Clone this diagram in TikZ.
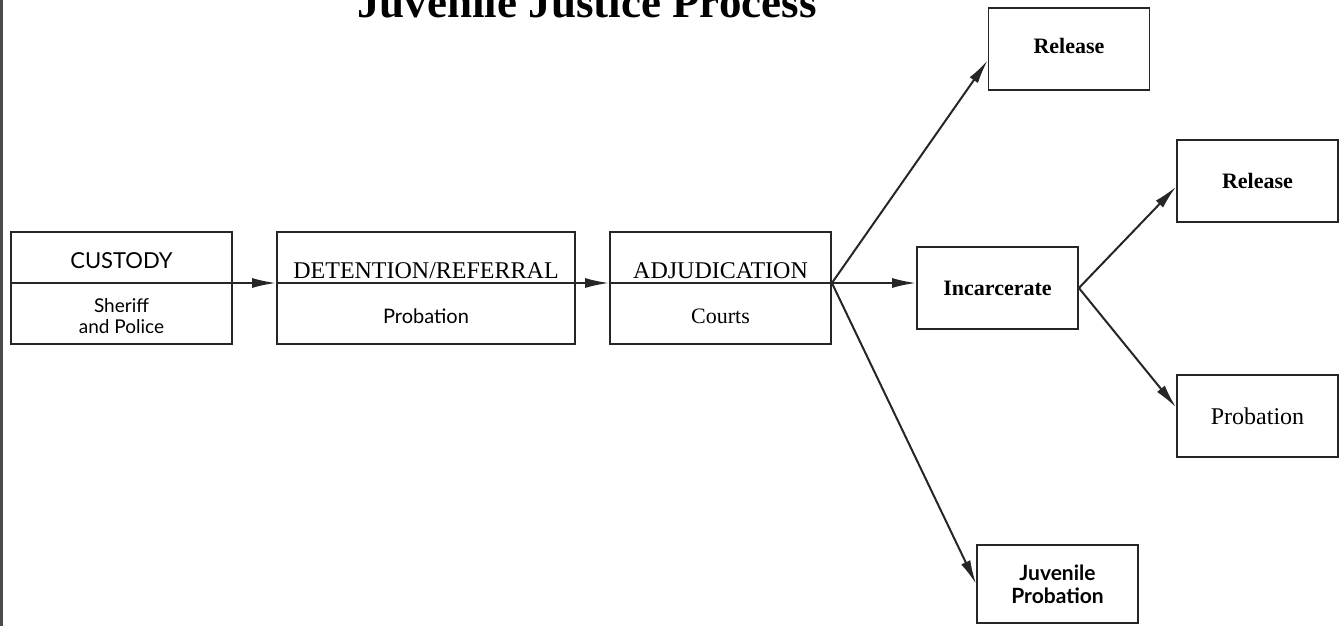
\documentclass[tikz,border=0pt]{standalone}
\usepackage{fontspec}
\setmainfont{Liberation Serif}
\newfontfamily\labelsans{Lato}
\usetikzlibrary{positioning, arrows.meta}
\tikzset{
  stagebox/.style ={draw=black!85, line width=0.9pt,
                    minimum width=110.5pt, minimum height=56pt, inner sep=0pt},
  outcome/.style  ={draw=black!85, line width=0.9pt, align=center,
                    minimum width=80.5pt, minimum height=41pt, inner sep=2pt,
                    font=\bfseries\fontsize{11}{13}\selectfont},
  headtxt/.style  ={anchor=base, inner sep=0pt,
                    font=\fontsize{12}{14}\selectfont},
  subtxt/.style   ={align=center, inner sep=0pt,
                    font=\labelsans\fontsize{10}{10.5}\selectfont},
  flow/.style     ={-{Latex[length=12pt, width=5pt]}, line width=1pt, draw=black!85},
}

\begin{document}
\begin{tikzpicture}[x=0.5pt, y=-0.5pt]
  \useasboundingbox (0,0) rectangle (1342,626);
  \clip (0,0) rectangle (1342,626);

  % title, cut off by the top edge
  \node[anchor=base, inner sep=0pt, font=\bfseries\fontsize{22.5}{26}\selectfont]
    (title) at (587,18) {Juvenile Justice Process};

  % left edge of the page
  \draw[black!70, line width=1.2pt] (1.5,0) -- (1.5,626);

  % ---------------- main stages ----------------
  \node[stagebox] (custody) at (121.5,288) {};
  \node[stagebox, minimum width=149pt, right=21.6pt of custody] (detention) {};
  \node[stagebox, right=16.6pt of detention] (adjud) {};
  \node[outcome, right=42.1pt of adjud] (incarc) {Incarcerate};

  \coordinate (axis)    at (0,283);
  \coordinate (capbase) at (0,268);
  \coordinate (headbase) at (0,278);
  \coordinate (lowrow)  at (0,316);

  \node[headtxt, font=\labelsans\fontsize{11}{13}\selectfont]
    (custodyhd) at (custody.center |- capbase) {CUSTODY};
  \node[subtxt, font=\labelsans\fontsize{9.5}{10.5}\selectfont]
    (custodysub) at (custody.center |- lowrow) {Sheriff\\and Police};
  \node[headtxt] (detentionhd) at (detention.center |- headbase) {DETENTION/REFERRAL};
  \node[subtxt] (detentionsub) at (detention.center |- lowrow) {Probation};
  \node[headtxt] (adjudhd) at (adjud.center |- headbase) {ADJUDICATION};
  \node[subtxt, font=\fontsize{11}{13}\selectfont] (adjudsub) at (adjud.center |- lowrow) {Courts};

  % ---------------- outcomes ----------------
  \node[outcome] (release1) at (1069,49) {\raisebox{3pt}{Release}};
  \node[outcome] (release2) at (1257.5,181) {Release};
  \node[outcome, font=\fontsize{12}{14}\selectfont] (probation2) at (1257.5,416) {Probation};
  \node[outcome, minimum height=39pt, font=\labelsans\bfseries\fontsize{10.5}{11.5}\selectfont]
    (juvprob) at (1057.5,584) {Juvenile\\Probation};

  % ---------------- flow ----------------
  \draw[flow] (custody.west |- axis) -- (detention.west |- axis);
  \draw[flow] (detention.west |- axis) -- (adjud.west |- axis);
  \draw[flow] (adjud.west |- axis) -- (incarc.west |- axis);

  \coordinate (fork) at (adjud.east |- axis);
  \draw[flow] (fork) -- (release1.188);
  \draw[flow] (fork) -- (juvprob.west);
  \draw[flow] (incarc.east) -- (release2.184);
  \draw[flow] (incarc.east) -- (probation2.174);

\end{tikzpicture}
\end{document}
